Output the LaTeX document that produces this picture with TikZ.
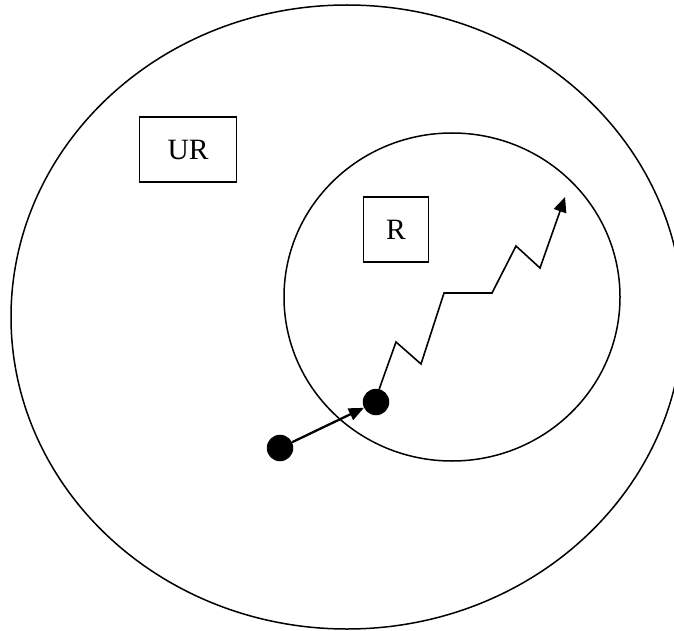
\documentclass[tikz,border=0pt]{standalone}
\usepackage{fontspec}
\setmainfont{Liberation Serif}
\usetikzlibrary{arrows.meta}
\begin{document}
\begin{tikzpicture}[x=1pt,y=-1pt,
  ring/.style={line width=1.5pt},
  labelbox/.style={draw,line width=1.5pt,inner sep=0pt,font=\fontsize{29.5}{34}\selectfont},
  dot/.style={circle,fill=black,inner sep=0pt,minimum size=26.5pt},
  jump/.style={line width=2.3pt,-{Triangle[length=15pt,width=12.5pt]}},
  walk/.style={line width=1.6pt,-{Triangle[length=15pt,width=13pt]}}]
\clip (0,0) rectangle (674,631);
\fill[white] (0,0) rectangle (674,631);
\draw[ring] (347,317) ellipse [x radius=336pt, y radius=312pt];
\draw[ring] (452,297) ellipse [x radius=168pt, y radius=164pt];
\node[labelbox,minimum width=97pt,minimum height=65pt] (ur) at (188,149.5) {UR\hspace{12pt}};
\node[labelbox,minimum width=65pt,minimum height=65pt] (r) at (396,229.5) {R};
\node[dot] (d1) at (280,448) {};
\node[dot] (d2) at (376,402) {};
\draw[jump] (d1) -- (d2);
\coordinate (z1) at (396,342);
\coordinate (z2) at (421,364);
\coordinate (z3) at (444,293);
\coordinate (z4) at (492,293);
\coordinate (z5) at (516,246);
\coordinate (z6) at (540,268);
\coordinate (z7) at (565,197);
\draw[walk,line join=miter] (d2.76) -- (z1) -- (z2) -- (z3) -- (z4) -- (z5) -- (z6) -- (z7);
\end{tikzpicture}
\end{document}
